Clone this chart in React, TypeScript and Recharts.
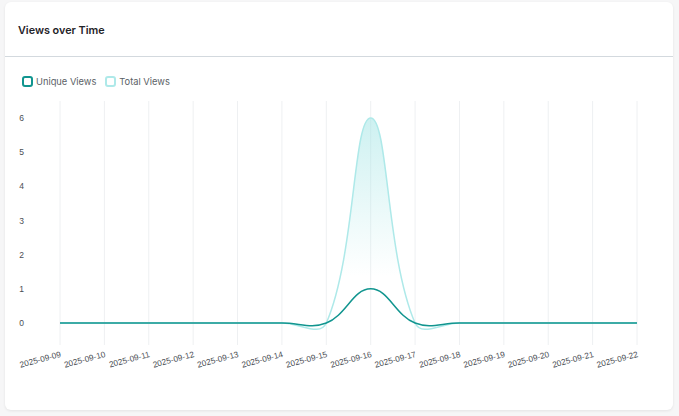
import React from 'react';
import { AreaChart, Area, XAxis, YAxis, CartesianGrid } from 'recharts';

const dates = [
    '2025-09-09', '2025-09-10', '2025-09-11', '2025-09-12', '2025-09-13', '2025-09-14', '2025-09-15',
    '2025-09-16', '2025-09-17', '2025-09-18', '2025-09-19', '2025-09-20', '2025-09-21', '2025-09-22',
];
const uniqueViews = [0, 0, 0, 0, 0, 0, 0, 1, 0, 0, 0, 0, 0, 0];
const totalViews = [0, 0, 0, 0, 0, 0, 0, 6, 0, 0, 0, 0, 0, 0];
const yTicks = [0, 1, 2, 3, 4, 5, 6];

const UNIQUE_COLOR = '#11958f';
const TOTAL_COLOR = '#aee9e9';

const series = [
    { key: 'unique', name: 'Unique Views', color: UNIQUE_COLOR },
    { key: 'total', name: 'Total Views', color: TOTAL_COLOR },
];

const data = dates.map((date, i) => ({
    date,
    unique: uniqueViews[i],
    total: totalViews[i],
}));

const font = 'Inter, "Noto Sans", sans-serif';
const tickFont = '"Liberation Sans", Arial, sans-serif';

// spline with distance-weighted control points (tension 0.4), same idea as a chart.js line
function tensionCurve(context: any) {
    const tension = 0.4;
    let pts: [number, number][] = [];
    let line = NaN;
    return {
        areaStart() { line = 0; },
        areaEnd() { line = NaN; },
        lineStart() { pts = []; },
        point(x: number, y: number) { pts.push([+x, +y]); },
        lineEnd() {
            const n = pts.length;
            if (n) {
                const cps = pts.map((cur, i) => {
                    const prev = pts[Math.max(i - 1, 0)];
                    const next = pts[Math.min(i + 1, n - 1)];
                    const d01 = Math.hypot(cur[0] - prev[0], cur[1] - prev[1]);
                    const d12 = Math.hypot(next[0] - cur[0], next[1] - cur[1]);
                    let s01 = d01 / (d01 + d12);
                    let s12 = d12 / (d01 + d12);
                    if (isNaN(s01)) s01 = 0;
                    if (isNaN(s12)) s12 = 0;
                    const fa = tension * s01;
                    const fb = tension * s12;
                    return {
                        prev: [cur[0] - fa * (next[0] - prev[0]), cur[1] - fa * (next[1] - prev[1])],
                        next: [cur[0] + fb * (next[0] - prev[0]), cur[1] + fb * (next[1] - prev[1])],
                    };
                });
                if (line) context.lineTo(pts[0][0], pts[0][1]);
                else context.moveTo(pts[0][0], pts[0][1]);
                for (let i = 1; i < n; i++) {
                    const a = cps[i - 1].next;
                    const b = cps[i].prev;
                    context.bezierCurveTo(a[0], a[1], b[0], b[1], pts[i][0], pts[i][1]);
                }
            }
            if (line) context.closePath();
            line = 1 - line;
        },
    };
}

export default function App() {
    return (
        <div style={{ position: 'relative', width: 679, height: 416, background: '#f6f6f7', fontFamily: font, overflow: 'hidden' }}>
            <style>{`body{margin:0;}`}</style>
            <div
                style={{
                    position: 'absolute',
                    left: 5,
                    top: 2,
                    width: 668,
                    height: 408,
                    background: '#ffffff',
                    borderRadius: 6,
                    boxShadow: '0 1px 3px rgba(0,0,0,0.08)',
                }}
            />
            <div style={{ position: 'absolute', left: 18, top: 24, fontSize: 10.8, fontWeight: 600, color: '#1f2328' }}>
                Views over Time
            </div>
            <div style={{ position: 'absolute', left: 5, top: 56, width: 668, height: 1, background: '#d3d9de' }} />
            <div style={{ position: 'absolute', left: 22, top: 76, display: 'flex', alignItems: 'center', fontSize: 9.3, color: '#5b5f66' }}>
                {series.map(s => (
                    <div key={s.key} style={{ display: 'flex', alignItems: 'center', marginRight: 9 }}>
                        <span
                            style={{
                                display: 'inline-block',
                                width: 7,
                                height: 7,
                                border: `2px solid ${s.color}`,
                                borderRadius: 3,
                                marginRight: 3,
                            }}
                        />
                        <span>{s.name}</span>
                    </div>
                ))}
            </div>
            <div style={{ position: 'absolute', left: 0, top: 90 }}>
                <AreaChart width={679} height={326} data={data} margin={{ top: 11, right: 42, left: 0, bottom: 0 }}>
                    <defs>
                        <linearGradient id="totalFill" x1="0" y1="0" x2="0" y2="1">
                            <stop offset="0%" stopColor="#a3e5e5" stopOpacity={0.9} />
                            <stop offset="75%" stopColor="#a8e6e6" stopOpacity={0} />
                        </linearGradient>
                    </defs>
                    <CartesianGrid horizontal={false} stroke="#eef0f2" />
                    <XAxis
                        dataKey="date"
                        interval={0}
                        axisLine={false}
                        tickLine={false}
                        tickSize={0}
                        angle={-15}
                        textAnchor="end"
                        tick={{ fontSize: 8.3, fill: '#4a4e54', fontFamily: tickFont }}
                        tickMargin={6}
                        height={71}
                    />
                    <YAxis
                        domain={[0, 6]}
                        ticks={yTicks}
                        width={60}
                        axisLine={false}
                        tickLine={false}
                        tickMargin={30}
                        padding={{ top: 17, bottom: 22 }}
                        tick={{ fontSize: 8.5, fill: '#4a4e54', fontFamily: tickFont }}
                    />
                    <Area
                        type={tensionCurve as any}
                        dataKey="total"
                        name="Total Views"
                        stroke={TOTAL_COLOR}
                        strokeWidth={1.5}
                        fill="url(#totalFill)"
                        isAnimationActive={false}
                        dot={false}
                        activeDot={false}
                    />
                    <Area
                        type={tensionCurve as any}
                        dataKey="unique"
                        name="Unique Views"
                        stroke={UNIQUE_COLOR}
                        strokeWidth={1.5}
                        fill="none"
                        isAnimationActive={false}
                        dot={false}
                        activeDot={false}
                    />
                </AreaChart>
            </div>
        </div>
    );
}
